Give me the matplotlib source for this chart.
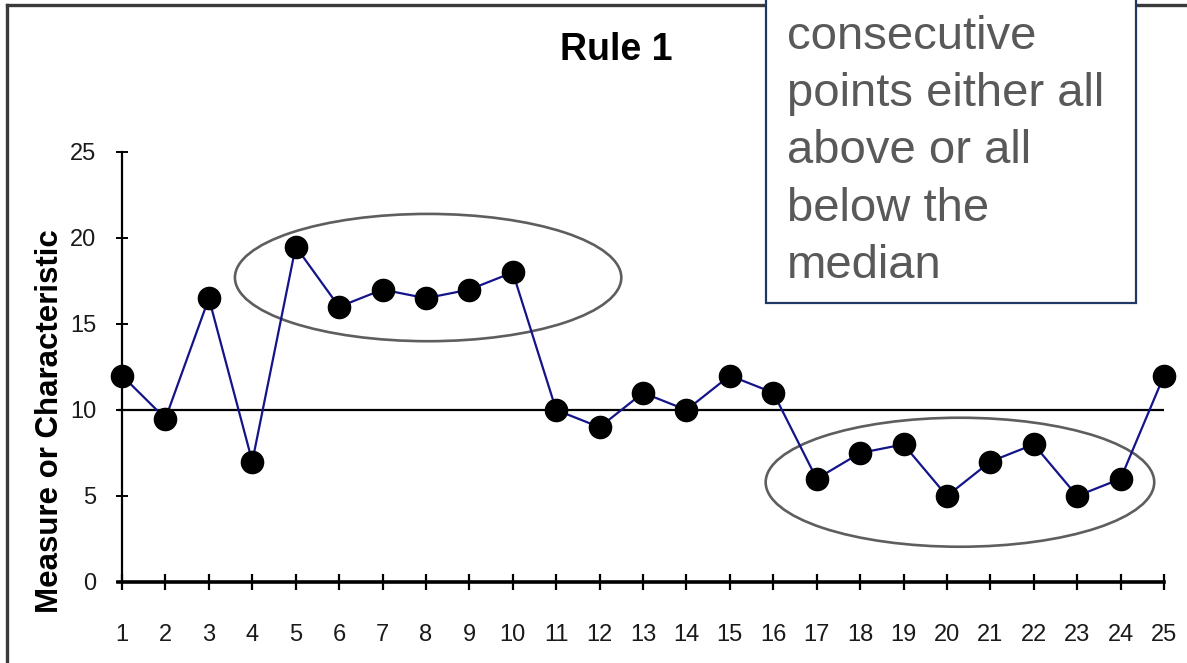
import matplotlib
matplotlib.use('Agg')
import matplotlib.pyplot as plt
from matplotlib.lines import Line2D
from matplotlib.patches import Ellipse, Rectangle

# Chart data
POINTS = list(range(1, 26))
VALUES = [12, 9.5, 16.5, 7, 19.5, 16, 17, 16.5, 17, 18,
          10, 9, 11, 10, 12, 11, 6, 7.5, 8, 5, 7, 8, 5, 6, 12]
MEDIAN = 10
Y_TICKS = [0, 5, 10, 15, 20, 25]
# runs circled in the chart: (centre x, centre y, width, height) in data units
RUNS = [(8.05, 17.7, 8.9, 7.4), (20.3, 5.8, 8.95, 7.5)]
NOTE_LINES = ['consecutive', 'points either all', 'above or all', 'below the', 'median']

W, H = 1187, 663
SANS = ['Liberation Sans', 'DejaVu Sans']

fig = plt.figure(figsize=(W / 100, H / 100), dpi=100)
fig.patch.set_facecolor('white')


def px(x, y):
    """pixel position (from top-left) -> figure fraction"""
    return x / W, 1 - y / H


ax = fig.add_axes([117.7 / W, (H - 582) / H, 1046.3 / W, 430 / H])
ax.set_xlim(0.9, 25)
ax.set_ylim(0, 25)

ax.axhline(MEDIAN, color='black', lw=1.6, zorder=1)
ax.plot(POINTS, VALUES, color='#14148a', lw=1.6, marker='o', ms=16,
        mfc='black', mec='black', clip_on=False, zorder=3)

for cx, cy, w, h in RUNS:
    ax.add_patch(Ellipse((cx, cy), w, h, fill=False, ec='#5e5e5e', lw=1.9,
                         clip_on=False, zorder=2))

for side in ('top', 'right'):
    ax.spines[side].set_visible(False)
ax.spines['left'].set_position(('data', 1))
ax.spines['left'].set_linewidth(1.6)
ax.spines['bottom'].set_linewidth(2.6)

ax.set_xticks(POINTS)
ax.set_yticks(Y_TICKS)
ax.tick_params(axis='x', direction='inout', length=12, width=1.6, pad=24,
               labelsize=17)
ax.tick_params(axis='y', direction='inout', length=9, width=1.4, pad=14,
               labelsize=17)
for lab in ax.get_xticklabels() + ax.get_yticklabels():
    lab.set_family(SANS)
    lab.set_color('#1a1a1a')

fig.text(*px(616, 50), 'Rule 1', ha='center', va='center', fontsize=27,
         fontweight='bold', family=SANS)
fig.text(*px(50, 421), 'Measure or Characteristic', ha='center', va='center',
         rotation=90, fontsize=22.5, fontweight='bold', family=SANS)

# outer frame of the pasted chart (top and left edges are visible)
fig.add_artist(Line2D([7 / W, 1.01], [1 - 5 / H, 1 - 5 / H],
                      transform=fig.transFigure, color='#3a3a3a', lw=2.4))
fig.add_artist(Line2D([7 / W, 7 / W], [1 - 5 / H, -0.01],
                      transform=fig.transFigure, color='#3a3a3a', lw=2.4))

# text box overlapping the chart
x0, y0 = px(766, 303)
fig.add_artist(Rectangle((x0, y0), (1136 - 766) / W, 1.05 - y0,
                         transform=fig.transFigure, fc='white', ec='#1f3864',
                         lw=1.6, zorder=5))
for i, line in enumerate(NOTE_LINES):
    fig.text(*px(787, 49 + 57.2 * i), line, ha='left', va='baseline',
             fontsize=34, color='#595959', family=SANS, zorder=6)

fig.savefig('out.png', dpi=100)
